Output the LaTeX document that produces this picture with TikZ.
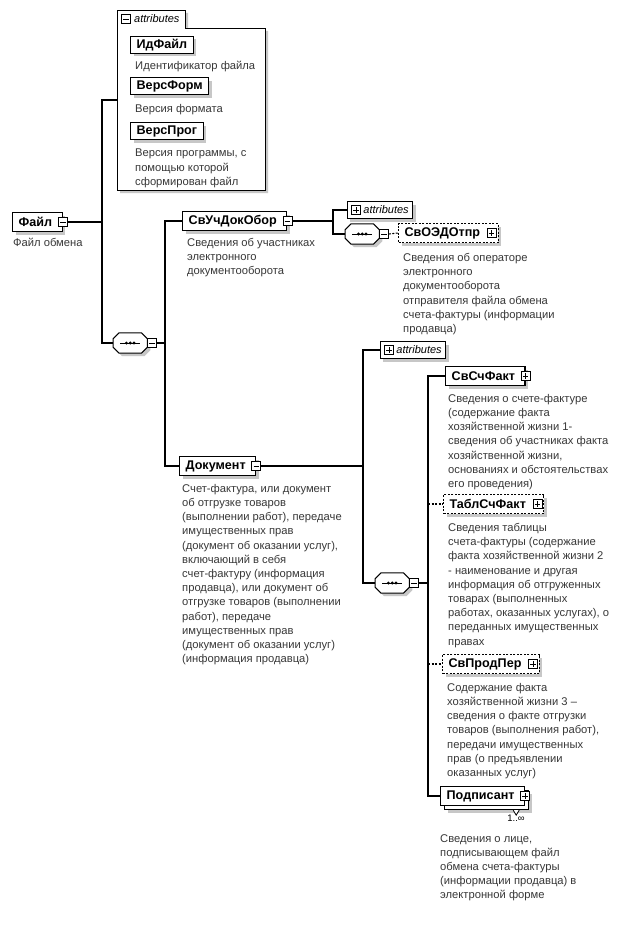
\documentclass[tikz,border=0pt]{standalone}
\usepackage{fontspec}
\setmainfont{Liberation Sans}
\usetikzlibrary{shadows}
\newcommand\dscfont{\fontsize{11.2}{14.2}\selectfont}
\newcommand\elfont{\fontsize{12.6}{14}\selectfont\bfseries}
\newcommand\atfont{\fontsize{11}{12}\selectfont\itshape}
\tikzset{
 shad/.style={general shadow={fill=black!22, shadow xshift=3pt, shadow yshift=-3pt}},
 elembase/.style={draw, line width=1.3pt, fill=white, minimum height=19pt, inner xsep=6pt, inner ysep=0pt, anchor=west, font=\elfont},
 elem/.style={elembase, shad},
 optelem/.style={elem, dash pattern=on 2pt off 1.5pt, line width=1.1pt},
 attel/.style={elem, minimum height=17pt},
 multel/.style={elembase, general shadow={fill=black!22, shadow xshift=7pt, shadow yshift=-7pt}, copy shadow={shadow xshift=4pt, shadow yshift=-4pt, draw, fill=white, line width=1.1pt}},
 desc/.style={anchor=north west, align=left, inner sep=0pt, font=\dscfont, text=black!78},
 expbase/.style={draw, line width=0.8pt, fill=white, minimum size=9pt, inner sep=0pt},
 expm/.style={expbase, path picture={\draw[line width=0.8pt] ([xshift=1.8pt]path picture bounding box.west) -- ([xshift=-1.8pt]path picture bounding box.east);}},
 expp/.style={expbase, path picture={\draw[line width=0.8pt] ([xshift=1.8pt]path picture bounding box.west) -- ([xshift=-1.8pt]path picture bounding box.east) ([yshift=-1.8pt]path picture bounding box.north) -- ([yshift=1.8pt]path picture bounding box.south);}},
 attbox/.style={draw, line width=0.9pt, fill=white, shad, minimum height=17pt, inner xsep=4pt, inner ysep=0pt, anchor=west, font=\atfont},
 seqbox/.style={minimum width=34pt, minimum height=20pt, inner sep=0pt, anchor=west},
 seqline/.style={draw, line width=1pt, fill=white, shad},
 conn/.style={line width=1.2pt},
 dconn/.style={line width=1.1pt, dash pattern=on 2pt off 1.5pt}
}
\newcommand\seqsym[3]{%
 \node[seqbox] (#1) at (#2,#3) {};
 \path[seqline] ([xshift=6pt]#1.north west) -- ([xshift=-6pt]#1.north east) -- ([yshift=-6pt]#1.north east) -- ([yshift=6pt]#1.south east) -- ([xshift=-6pt]#1.south east) -- ([xshift=6pt]#1.south west) -- ([yshift=6pt]#1.south west) -- ([yshift=-6pt]#1.north west) -- cycle;
 \draw[line width=0.9pt] ([xshift=-10pt]#1.center) -- ([xshift=10pt]#1.center);
 \fill ([xshift=-3.8pt]#1.center) circle (1.6pt) (#1.center) circle (1.6pt) ([xshift=3.8pt]#1.center) circle (1.6pt);
}
\begin{document}
\begin{tikzpicture}[x=1pt,y=-1pt]
\useasboundingbox (0,0) rectangle (639,934);
\fill[white] (0,0) rectangle (639,934);

% top attributes group
\path[draw, line width=0.9pt, fill=white, shad] (117,10) -- (185,10) -- (185,28) -- (265,28) -- (265,190) -- (117,190) -- cycle;
\node[expm] (atm1) at (126,19) {};
\node[anchor=west, font=\atfont, inner sep=0pt] (att1) at (134,19) {attributes};
\coordinate (attin) at (117,100);
\node[attel] (idf) at (130,45) {ИдФайл};
\node[desc] (idfd) at (135,61) {Идентификатор файла};
\node[attel] (vf) at (130,86) {ВерсФорм};
\node[desc] (vfd) at (135,104) {Версия формата};
\node[attel] (vp) at (130,131) {ВерсПрог};
\node[desc] (vpd) at (135,149) {Версия программы, с\\помощью которой\\сформирован файл};

% Файл
\node[elem] (file) at (12,222) {Файл\kern4pt};
\node[expm] (filem) at (file.east) {};
\node[desc] (filed) at (13,238) {Файл обмена};

% sequence 1
\seqsym{seq1}{113}{343}
\node[expm] (seq1m) at ([xshift=4.5pt]seq1.east) {};

% СвУчДокОбор
\node[elem] (svu) at (182,221) {СвУчДокОбор\kern4pt};
\node[expm] (svum) at (svu.east) {};
\node[desc] (svud) at (187,238) {Сведения об участниках\\электронного\\документооборота};

\node[attbox] (att2) at (347,210) {\kern12pt attributes};
\node[expp] (att2p) at ([xshift=9pt]att2.west) {};
\seqsym{seq2}{345}{234}
\node[expm] (seq2m) at ([xshift=4.5pt]seq2.east) {};
\node[optelem] (svo) at (398,233) {СвОЭДОтпр\kern12pt};
\node[expp] (svop) at ([xshift=-7pt]svo.east) {};
\node[desc] (svod) at (403,253) {Сведения об операторе\\электронного\\документооборота\\отправителя файла обмена\\счета-фактуры (информации\\продавца)};

% Документ
\node[elem] (doc) at (179,466) {Документ\kern4pt};
\node[expm] (docm) at (doc.east) {};
\node[desc] (docd) at (182,484) {Счет-фактура, или документ\\об отгрузке товаров\\(выполнении работ), передаче\\имущественных прав\\(документ об оказании услуг),\\включающий в себя\\счет-фактуру (информация\\продавца), или документ об\\отгрузке товаров (выполнении\\работ), передаче\\имущественных прав\\(документ об оказании услуг)\\(информация продавца)};

\node[attbox] (att3) at (380,350) {\kern12pt attributes};
\node[expp] (att3p) at ([xshift=9pt]att3.west) {};
\seqsym{seq3}{375}{583}
\node[expm] (seq3m) at ([xshift=4.5pt]seq3.east) {};

\node[elem] (sch) at (445,376) {СвСчФакт\kern4pt};
\node[expp] (schp) at (sch.east) {};
\node[desc] (schd) at (448,394) {Сведения о счете-фактуре\\(содержание факта\\хозяйственной жизни 1-\\сведения об участниках факта\\хозяйственной жизни,\\основаниях и обстоятельствах\\его проведения)};

\node[optelem] (tab) at (443,504) {ТаблСчФакт\kern12pt};
\node[expp] (tabp) at ([xshift=-7pt]tab.east) {};
\node[desc] (tabd) at (448,523) {Сведения таблицы\\счета-фактуры (содержание\\факта хозяйственной жизни 2\\- наименование и другая\\информация об отгруженных\\товарах (выполненных\\работах, оказанных услугах), о\\переданных имущественных\\правах};

\node[optelem] (spp) at (442,664) {СвПродПер\kern12pt};
\node[expp] (sppp) at ([xshift=-7pt]spp.east) {};
\node[desc] (sppd) at (447,683) {Содержание факта\\хозяйственной жизни 3 –\\сведения о факте отгрузки\\товаров (выполнения работ),\\передачи имущественных\\прав (о предъявлении\\оказанных услуг)};

\node[multel] (pod) at (440,796) {Подписант\kern4pt};
\node[expp] (podp) at (pod.east) {};
\draw[line width=0.8pt, fill=white] ([xshift=-12pt,yshift=-4pt]pod.south east) -- ([xshift=-9pt,yshift=-9pt]pod.south east) -- ([xshift=-6pt,yshift=-4pt]pod.south east);
\node[font=\fontsize{9.5}{10}\selectfont, inner sep=0pt] (podm) at (516,818) {1..∞};
\node[desc] (podd) at (440,834) {Сведения о лице,\\подписывающем файл\\обмена счета-фактуры\\(информации продавца) в\\электронной форме};

% connectors
\coordinate (b1) at (102,0);
\coordinate (b2) at (165,0);
\coordinate (b3) at (333,0);
\coordinate (b4) at (363,0);
\coordinate (b5) at (428,0);
\draw[conn] (filem.east) -- (filem.east -| b1);
\draw[conn] (attin) -| (b1 |- seq1.west) -- (seq1.west);
\draw[conn] (seq1m.east) -- (seq1m.east -| b2);
\draw[conn] (svu.west) -| (b2 |- doc.west) -- (doc.west);
\draw[conn] (svum.east) -- (svum.east -| b3);
\draw[conn] (att2.west) -| (b3 |- seq2.west) -- (seq2.west);
\draw[dconn] (seq2m.east) -- (svo.west);
\draw[conn] (docm.east) -- (docm.east -| b4);
\draw[conn] (att3.west) -| (b4 |- seq3.west) -- (seq3.west);
\draw[conn] (seq3m.east) -- (seq3m.east -| b5);
\draw[conn] (sch.west) -| (b5 |- pod.west) -- (pod.west);
\draw[dconn] (tab.west -| b5) -- (tab.west);
\draw[dconn] (spp.west -| b5) -- (spp.west);
\end{tikzpicture}
\end{document}
